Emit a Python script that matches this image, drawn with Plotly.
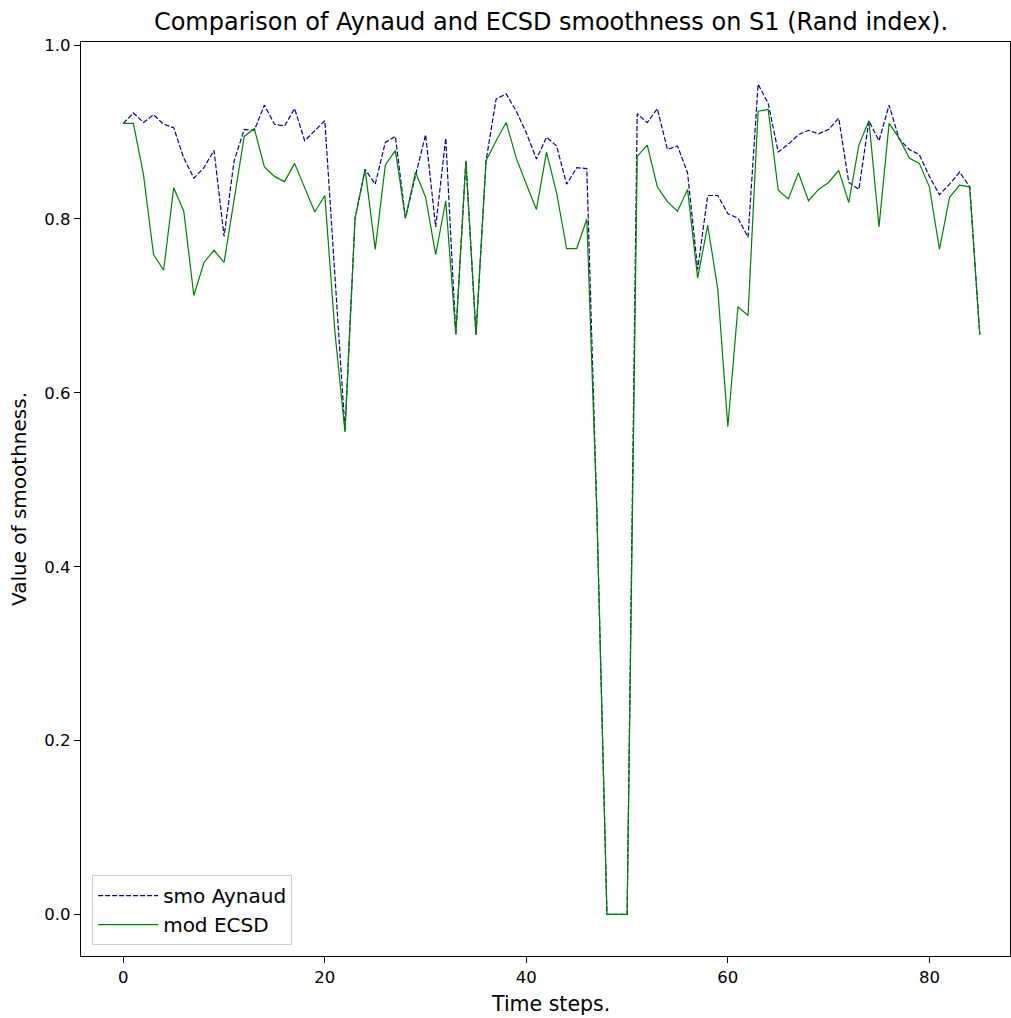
import plotly.graph_objects as go

# Smoothness (Rand index) per time step on S1
time_steps = list(range(86))

smo_aynaud = [
    0.910, 0.922, 0.911, 0.920, 0.909, 0.905, 0.870, 0.847, 0.859, 0.879,
    0.780, 0.867, 0.903, 0.902, 0.931, 0.909, 0.907, 0.927, 0.890, 0.901,
    0.913, 0.735, 0.557, 0.801, 0.857, 0.840, 0.888, 0.895, 0.801, 0.850,
    0.897, 0.791, 0.893, 0.667, 0.867, 0.667, 0.867, 0.938, 0.944, 0.924,
    0.899, 0.869, 0.894, 0.884, 0.840, 0.859, 0.858, 0.462, 0.000, 0.000,
    0.000, 0.921, 0.911, 0.927, 0.880, 0.884, 0.853, 0.742, 0.827, 0.827,
    0.806, 0.801, 0.779, 0.955, 0.933, 0.877, 0.886, 0.897, 0.902, 0.898,
    0.903, 0.916, 0.842, 0.834, 0.913, 0.890, 0.931, 0.892, 0.880, 0.874,
    0.849, 0.828, 0.840, 0.854, 0.837, 0.667,
]

mod_ecsd = [
    0.910, 0.910, 0.851, 0.759, 0.741, 0.836, 0.809, 0.712, 0.750, 0.764,
    0.750, 0.823, 0.895, 0.904, 0.860, 0.849, 0.843, 0.864, 0.837, 0.808,
    0.827, 0.670, 0.555, 0.801, 0.857, 0.765, 0.862, 0.879, 0.801, 0.854,
    0.825, 0.759, 0.821, 0.667, 0.867, 0.667, 0.867, 0.890, 0.911, 0.870,
    0.840, 0.811, 0.877, 0.830, 0.766, 0.766, 0.800, 0.462, 0.000, 0.000,
    0.000, 0.872, 0.885, 0.837, 0.820, 0.809, 0.834, 0.732, 0.793, 0.719,
    0.561, 0.699, 0.689, 0.924, 0.926, 0.833, 0.823, 0.853, 0.821, 0.834,
    0.842, 0.856, 0.819, 0.885, 0.913, 0.791, 0.910, 0.893, 0.870, 0.864,
    0.837, 0.765, 0.825, 0.839, 0.837, 0.667,
]

x_ticks = [0, 20, 40, 60, 80]
y_ticks = [0.0, 0.2, 0.4, 0.6, 0.8, 1.0]
y_tick_text = ["0.0", "0.2", "0.4", "0.6", "0.8", "1.0"]

FONT = "DejaVu Sans, sans-serif"

fig = go.Figure()
fig.add_trace(go.Scatter(
    x=time_steps, y=smo_aynaud, mode="lines", name="smo Aynaud",
    line=dict(color="#00008b", width=1.2, dash="5px,2px"),
))
fig.add_trace(go.Scatter(
    x=time_steps, y=mod_ecsd, mode="lines", name="mod ECSD",
    line=dict(color="#008000", width=1.2),
))

axis_common = dict(
    showline=True, linecolor="black", linewidth=1.2, mirror=True,
    showgrid=False, zeroline=False,
    ticks="outside", ticklen=6, tickwidth=1.2, tickcolor="black",
    tickfont=dict(family=FONT, size=16.5, color="black"),
)

fig.update_layout(
    width=1011, height=1018,
    margin=dict(l=81, r=1, t=42, b=62),
    paper_bgcolor="white", plot_bgcolor="white",
    font=dict(family=FONT, color="black"),
    title=dict(
        text="Comparison of Aynaud and ECSD smoothness on S1 (Rand index).",
        x=551 / 1011, xanchor="center", y=1 - 22 / 1018, yanchor="middle",
        font=dict(family=FONT, size=24, color="black"),
    ),
    xaxis=dict(range=[-4.2, 88.0], tickvals=x_ticks, **axis_common),
    yaxis=dict(
        range=[-0.0478, 1.0036], tickvals=y_ticks, ticktext=y_tick_text,
        title=dict(text="Value of smoothness.", font=dict(family=FONT, size=20), standoff=12),
        **axis_common,
    ),
    legend=dict(
        x=0.012, y=0.012, xanchor="left", yanchor="bottom",
        bgcolor="rgba(255,255,255,0.8)", bordercolor="#cccccc", borderwidth=1,
        font=dict(family=FONT, size=20, color="black"),
        itemwidth=60,
        tracegroupgap=2,
    ),
    showlegend=True,
)

# x-axis label placed as a paper-anchored annotation below the tick labels
fig.add_annotation(
    text="Time steps.", xref="paper", yref="paper",
    x=(550 - 81) / 929, y=-(1004 - 956) / 914, xanchor="center", yanchor="middle",
    showarrow=False, font=dict(family=FONT, size=20.5, color="black"),
)

fig.write_html("out.html")
